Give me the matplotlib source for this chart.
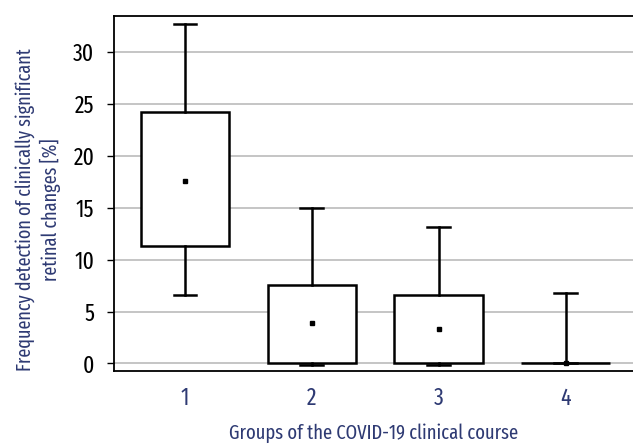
import matplotlib
matplotlib.use("Agg")
import matplotlib.pyplot as plt

groups = ["1", "2", "3", "4"]
whisker_low = [6.6, -0.1, -0.1, 0.0]
q1 = [11.3, 0.0, 0.0, 0.0]
q3 = [24.2, 7.6, 6.6, 0.0]
whisker_high = [32.7, 15.0, 13.1, 6.8]
means = [17.6, 3.9, 3.3, 0.0]

plt.rcParams["font.family"] = ["Fira Sans Extra Condensed", "PT Sans Narrow", "DejaVu Sans"]

navy = "#2e3a73"

stats = []
for i, g in enumerate(groups):
    stats.append(dict(label=g, whislo=whisker_low[i], q1=q1[i], med=means[i],
                      q3=q3[i], whishi=whisker_high[i], mean=means[i]))

fig = plt.figure(figsize=(6.33, 4.46), dpi=100)
ax = fig.add_axes([0.180, 0.168, 0.82, 0.797])

ax.yaxis.grid(True, color="#bbbbbb", linewidth=1.2, zorder=0)
ax.set_axisbelow(True)

ax.bxp(stats, positions=[1, 2, 3, 4], widths=0.70, showmeans=True,
       patch_artist=True, showfliers=False,
       boxprops=dict(facecolor="white", edgecolor="black", linewidth=1.8),
       whiskerprops=dict(color="black", linewidth=1.8),
       capprops=dict(color="black", linewidth=1.8),
       capwidths=0.18,
       medianprops=dict(linewidth=0),
       meanprops=dict(marker="s", markersize=2.5, markerfacecolor="black",
                      markeredgecolor="black"))

ax.set_xlim(0.44, 4.53)
ax.set_ylim(-0.73, 33.5)
ax.set_yticks([0, 5, 10, 15, 20, 25, 30])

for s in ["top", "left", "bottom"]:
    ax.spines[s].set_linewidth(1.3)
ax.spines["right"].set_visible(False)

ax.tick_params(axis="y", length=5, width=1, labelsize=17, colors="black", pad=9)
ax.tick_params(axis="x", length=0, labelsize=17, labelcolor=navy, pad=11)

ax.set_xlabel("Groups of the COVID-19 clinical course", fontsize=14.5, color=navy, labelpad=10)
ax.set_ylabel("Frequency detection of clinically significant\nretinal changes [%]",
              fontsize=14.2, color=navy, linespacing=1.3)
ax.yaxis.set_label_coords(-0.102, 0.455)

fig.savefig("out.png", dpi=100)
